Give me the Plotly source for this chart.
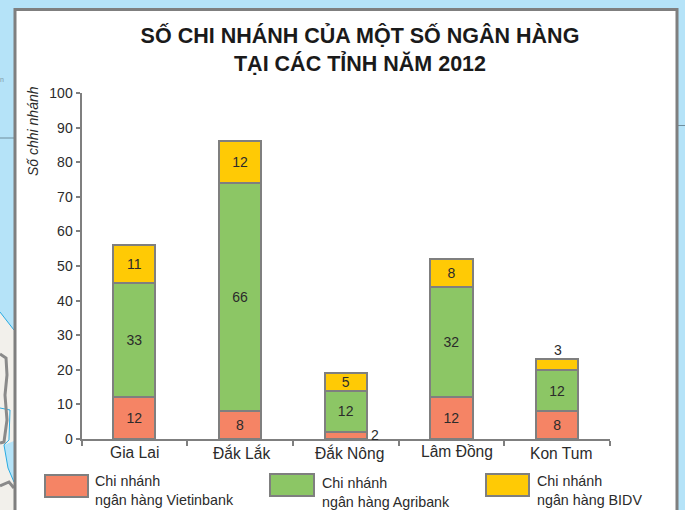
import plotly.graph_objects as go

W, H = 685, 510

provinces = ["Gia Lai", "Đắk Lắk", "Đắk Nông", "Lâm Đồng", "Kon Tum"]
vietinbank = [12, 8, 2, 12, 8]
agribank = [33, 66, 12, 32, 12]
bidv = [11, 12, 5, 8, 3]
y_ticks = list(range(0, 101, 10))

names = ["Chi nhánh<br>ngân hàng Vietinbank", "Chi nhánh<br>ngân hàng Agribank", "Chi nhánh<br>ngân hàng BIDV"]
colors = ["#f58465", "#8cc665", "#ffca05"]

FONT = "Liberation Sans"
EDGE = "#7f7f7f"
INK = "#2b2b2b"


def px(x):
    return x / W


def py(y):
    return 1 - y / H


def path(points, close=False):
    s = "M " + " L ".join(f"{px(x):.4f},{py(y):.4f}" for x, y in points)
    return s + (" Z" if close else "")


fig = go.Figure()

# the small values sit outside their bars, added below as annotations
bar_text = [
    [str(v) if v > 2 else "" for v in vietinbank],
    [str(v) for v in agribank],
    [str(v) if v > 3 else "" for v in bidv],
]
for vals, txt, col in zip([vietinbank, agribank, bidv], bar_text, colors):
    fig.add_trace(go.Bar(
        x=provinces, y=vals, text=txt, textposition="inside", insidetextanchor="middle",
        textangle=0, constraintext="none",
        textfont=dict(family=FONT, size=14, color=INK),
        marker=dict(color=col, line=dict(color=EDGE, width=2)),
        showlegend=False, hoverinfo="skip",
    ))

shapes = [
    # map land and water showing behind the panel
    dict(type="path", xref="paper", yref="paper", layer="below", line_width=0, fillcolor="#f2f0eb",
         path=path([(0, 312), (14, 330), (14, 510), (0, 510)], True)),
    dict(type="path", xref="paper", yref="paper", layer="below", line_width=0, fillcolor="#b5e3f8",
         path=path([(4, 445), (14, 441), (14, 482), (8, 468)], True)),
    dict(type="path", xref="paper", yref="paper", layer="below", fillcolor="rgba(0,0,0,0)",
         line=dict(color="#29abe2", width=1),
         path=path([(0, 312), (14, 330)])),
    dict(type="path", xref="paper", yref="paper", layer="below", fillcolor="rgba(0,0,0,0)",
         line=dict(color="#29abe2", width=1),
         path=path([(0, 408), (10, 410), (9, 440), (4, 445), (8, 468), (14, 482)])),
    dict(type="path", xref="paper", yref="paper", layer="below", fillcolor="rgba(0,0,0,0)",
         line=dict(color="#8a8a8a", width=3),
         path=path([(0, 354), (6, 358), (7, 375), (5, 395), (7, 420), (4, 442), (0, 443)])),
    dict(type="path", xref="paper", yref="paper", layer="below", fillcolor="rgba(0,0,0,0)",
         line=dict(color="#8a8a8a", width=3),
         path=path([(0, 486), (9, 482), (14, 488)])),
    dict(type="line", xref="paper", yref="paper", layer="below", x0=0, x1=px(14), y0=py(138), y1=py(138),
         line=dict(color="#6f8d9c", width=1)),
    dict(type="line", xref="paper", yref="paper", layer="below", x0=px(677), x1=1, y0=py(125.5), y1=py(125.5),
         line=dict(color="#6f8d9c", width=1)),
    # white panel
    dict(type="rect", xref="paper", yref="paper", layer="below", x0=px(15), x1=px(677), y0=py(9.5), y1=-0.02,
         fillcolor="white", line=dict(color=EDGE, width=3)),
]

annotations = [
    dict(text="Số chhi nhánh", x=px(33), y=py(131), xref="paper", yref="paper", xanchor="center", yanchor="middle",
         textangle=-90, showarrow=False, font=dict(family=FONT, size=14, color=INK, style="italic")),
    dict(text="n", x=px(2), y=py(79), xref="paper", yref="paper", xanchor="center", yanchor="middle",
         showarrow=False, font=dict(family=FONT, size=7, color="#7f9aa8")),
]

# labels outside the bars, next to the marks they belong to
annotations.append(dict(text=str(vietinbank[2]), x=provinces[2], y=vietinbank[2], xref="x", yref="y",
                        xshift=29, yshift=-3, showarrow=False, font=dict(family=FONT, size=14, color=INK)))
annotations.append(dict(text=str(bidv[4]), x=provinces[4],
                        y=vietinbank[4] + agribank[4] + bidv[4], xref="x", yref="y",
                        yshift=9, xshift=1, showarrow=False, font=dict(family=FONT, size=14, color=INK)))

# category labels do not sit quite on the bar centres in the original
label_shift = [(0, 0), (1, 0), (4, 0), (6, 1), (4, -1)]
for p, (dx, dy) in zip(provinces, label_shift):
    annotations.append(dict(text=p, x=p, y=0, xref="x", yref="y", yanchor="top", xshift=dx, yshift=-3 + dy,
                            showarrow=False, font=dict(family=FONT, size=15.6, color=INK)))

# hand drawn legend
swatch_x = [(45, 88, 475), (270, 314, 474), (486, 529, 474)]
text_pos = [(93, 490.5), (320, 492.5), (535, 490.5)]
for name, col, (x0, x1, y0), (tx, ty) in zip(names, colors, swatch_x, text_pos):
    shapes.append(dict(type="rect", xref="paper", yref="paper", x0=px(x0), x1=px(x1), y0=py(y0), y1=py(y0 + 22),
                       fillcolor=col, line=dict(color=EDGE, width=2)))
    annotations.append(dict(text=name, x=px(tx), y=py(ty), xref="paper", yref="paper", xanchor="left",
                            yanchor="middle", align="left", showarrow=False,
                            font=dict(family=FONT, size=14.3, color=INK)))

fig.update_layout(
    width=W, height=H, barmode="stack", bargap=0.6,
    margin=dict(l=0, r=0, t=0, b=0, autoexpand=False),
    paper_bgcolor="#b5e3f8", plot_bgcolor="rgba(0,0,0,0)",
    title=dict(text="SỐ CHI NHÁNH CỦA MỘT SỐ NGÂN HÀNG<br>TẠI CÁC TỈNH NĂM 2012",
               x=px(360), xanchor="center", y=py(43), yanchor="middle",
               font=dict(family=FONT, size=21.5, color="#1a1a1a", weight="bold")),
    xaxis=dict(domain=[px(81.5), px(610)], tickson="boundaries", ticks="outside", ticklen=5, tickcolor=EDGE,
               tickwidth=1.5, showline=True, linecolor=EDGE, linewidth=2, showticklabels=False, showgrid=False),
    yaxis=dict(domain=[py(439), py(93)], range=[0, 100], tickvals=y_ticks, ticks="outside", ticklen=4,
               tickcolor=EDGE, tickwidth=1.5, showline=True, linecolor=EDGE, linewidth=2, showgrid=False,
               zeroline=False, tickfont=dict(family=FONT, size=14, color=INK)),
    shapes=shapes, annotations=annotations,
)

# page margin would otherwise push the figure 8px off the window corner
fig.write_html("out.html", config=dict(displayModeBar=False), post_script="document.body.style.margin='0';")
